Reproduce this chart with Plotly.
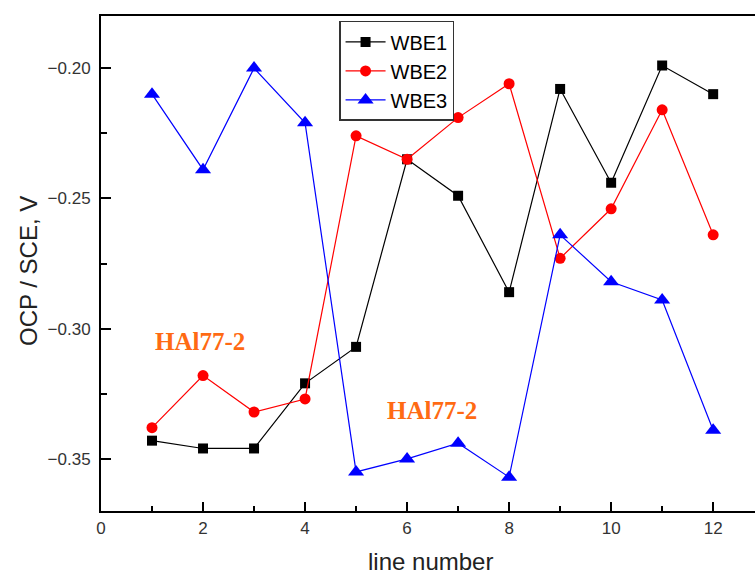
import plotly.graph_objects as go

line_number = [1, 2, 3, 4, 5, 6, 7, 8, 9, 10, 11, 12]
wbe1 = [-0.343, -0.346, -0.346, -0.321, -0.307, -0.235, -0.249, -0.286, -0.208, -0.244, -0.199, -0.210]
wbe2 = [-0.338, -0.318, -0.332, -0.327, -0.226, -0.235, -0.219, -0.206, -0.273, -0.254, -0.216, -0.264]
wbe3 = [-0.210, -0.239, -0.200, -0.221, -0.355, -0.350, -0.344, -0.357, -0.264, -0.282, -0.289, -0.339]

fig = go.Figure()
fig.add_trace(go.Scatter(x=line_number, y=wbe1, name="WBE1", mode="lines+markers",
                         line=dict(color="black", width=1.2),
                         marker=dict(symbol="square", size=10, color="black")))
fig.add_trace(go.Scatter(x=line_number, y=wbe2, name="WBE2", mode="lines+markers",
                         line=dict(color="red", width=1.2),
                         marker=dict(symbol="circle", size=11, color="red")))
fig.add_trace(go.Scatter(x=line_number, y=wbe3, name="WBE3", mode="lines+markers",
                         line=dict(color="blue", width=1.2),
                         marker=dict(symbol="triangle-up", size=14, color="blue")))

axis_font = dict(family="Liberation Sans, Arial", size=17, color="#333333")
title_font = dict(family="Liberation Sans, Arial", size=24, color="#222222")
fig.update_layout(
    width=755, height=575,
    margin=dict(l=101, r=0, t=16, b=64),
    paper_bgcolor="white", plot_bgcolor="white",
    font=dict(family="Liberation Sans, Arial"),
    showlegend=True,
    legend=dict(x=0.364, y=0.99, xanchor="left", yanchor="top",
                bordercolor="#333333", borderwidth=1.5, bgcolor="white",
                font=dict(family="Liberation Sans, Arial", size=20, color="black"),
                tracegroupgap=0, itemwidth=40),
    xaxis=dict(range=[0, 12.82], tickvals=[0, 2, 4, 6, 8, 10, 12], showgrid=False, zeroline=False,
               showline=True, linecolor="black", linewidth=2, mirror=True,
               ticks="inside", ticklen=9, tickwidth=2, tickcolor="black",
               minor=dict(tickvals=[1, 3, 5, 7, 9, 11], ticks="inside", ticklen=5, tickwidth=2, tickcolor="black"),
               tickfont=axis_font, ticklabelstandoff=1),
    yaxis=dict(range=[-0.37, -0.18], tickvals=[-0.35, -0.30, -0.25, -0.20], tickformat=".2f",
               showgrid=False, zeroline=False,
               showline=True, linecolor="black", linewidth=2,
               ticks="inside", ticklen=10, tickwidth=2, tickcolor="black",
               minor=dict(tickvals=[-0.325, -0.275, -0.225, -0.175], ticks="inside", ticklen=6, tickwidth=2, tickcolor="black"),
               tickfont=axis_font, ticklabelstandoff=5),
)

# axis titles
fig.add_annotation(xref="paper", yref="paper", x=(430 - 101) / 654, y=-(561 - 511) / 495,
                   text="line number", showarrow=False, font=title_font,
                   xanchor="center", yanchor="middle")
fig.add_annotation(xref="paper", yref="paper", x=-(101 - 28) / 654, y=1 - (271 - 16) / 495,
                   text="OCP / SCE, V", showarrow=False, font=title_font, textangle=-90,
                   xanchor="center", yanchor="middle")

ann_font = dict(family="Liberation Serif, Times New Roman", size=25, color="#FF6A13")
fig.add_annotation(x=1.94, y=-0.305, text="<b>HAl77-2</b>", showarrow=False, font=ann_font)
fig.add_annotation(x=6.49, y=-0.3315, text="<b>HAl77-2</b>", showarrow=False, font=ann_font)

fig.write_html("out.html")
